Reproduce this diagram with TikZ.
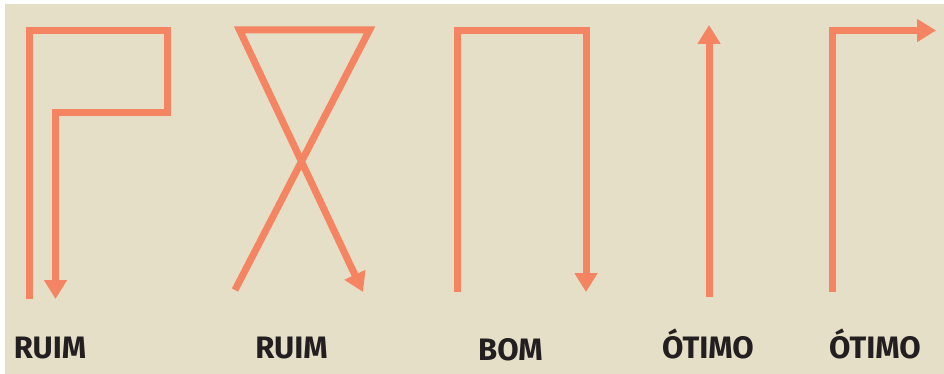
\documentclass[tikz,border=0pt]{standalone}
\usepackage{fontspec}
\setsansfont{Fira Sans}
\usetikzlibrary{arrows.meta}
\definecolor{fundo}{HTML}{E6DFC7}
\definecolor{laranja}{HTML}{F58462}
\definecolor{texto}{HTML}{231F20}
\begin{document}
\begin{tikzpicture}[x=1pt,y=-1pt,>={Triangle[length=19pt,width=22pt]}]
  \tikzstyle{trilha}=[draw=laranja, line width=7pt, miter limit=20]
  \tikzstyle{rotulo}=[anchor=base, inner sep=0pt, text=texto, font=\sffamily\bfseries\fontsize{31}{31}\selectfont]

  \fill[white] (0,0) rectangle (944,374);
  \useasboundingbox (0,0) rectangle (944,374);
  \fill[fundo] (5,4) rectangle (944,374);

  % ruim 1
  \coordinate (a0) at (29.5,299);
  \coordinate (a1) at (29.5,30.5);
  \coordinate (a2) at (167.5,30.5);
  \coordinate (a3) at (167.5,112.5);
  \coordinate (a4) at (55.5,112.5);
  \coordinate (a5) at (55.5,299);
  \draw[trilha,->] (a0) -- (a1) -- (a2) -- (a3) -- (a4) -- (a5);

  % ruim 2
  \coordinate (b0) at (235,290);
  \coordinate (b1) at (369.5,30);
  \coordinate (b2) at (239.5,30);
  \coordinate (b3) at (363,292);
  \draw[trilha,->] (b0) -- (b1) -- (b2) -- (b3);

  % bom
  \coordinate (c0) at (457,292);
  \coordinate (c1) at (457,30.5);
  \coordinate (c2) at (586,30.5);
  \coordinate (c3) at (586,292);
  \draw[trilha,->] (c0) -- (c1) -- (c2) -- (c3);

  % otimo 1
  \coordinate (d0) at (709,297);
  \coordinate (d1) at (709,25);
  \draw[trilha,->] (d0) -- (d1);

  % otimo 2
  \coordinate (e0) at (832,292);
  \coordinate (e1) at (832,30.5);
  \coordinate (e2) at (936,30.5);
  \draw[trilha,->] (e0) -- (e1) -- (e2);

  \node[rotulo] (r1) at (50,358) {RUIM};
  \node[rotulo] (r2) at (291.5,358) {RUIM};
  \node[rotulo] (r3) at (510.5,360) {BOM};
  \node[rotulo] (r4) at (708,358) {ÓTIMO};
  \node[rotulo] (r5) at (875,358) {ÓTIMO};
\end{tikzpicture}
\end{document}
